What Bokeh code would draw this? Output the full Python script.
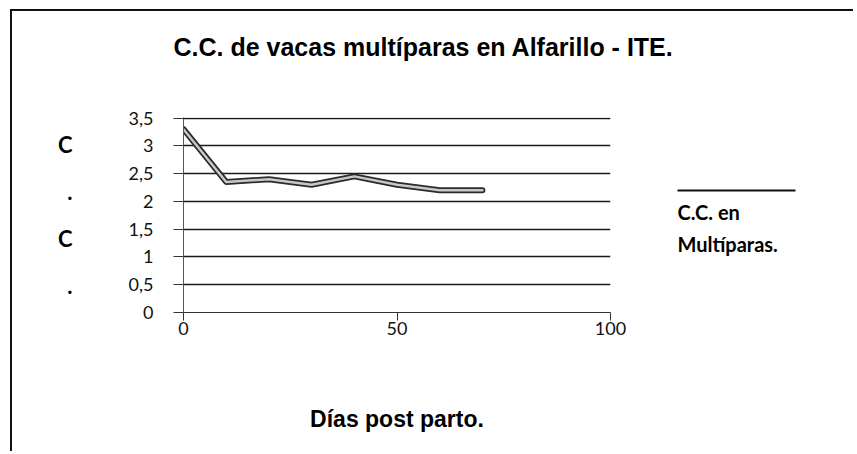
from bokeh.plotting import figure
from bokeh.models import FixedTicker, LinearAxis, Range1d, Title
from bokeh.embed import file_html
from bokeh.resources import INLINE

# data
dias = [0, 10, 20, 30, 40, 50, 60, 70]
cc_multiparas = [3.3, 2.35, 2.4, 2.3, 2.45, 2.3, 2.2, 2.2]
y_ticks = [0, 0.5, 1, 1.5, 2, 2.5, 3, 3.5]
y_tick_labels = ["0", "0,5", "1", "1,5", "2", "2,5", "3", "3,5"]
x_ticks = [0, 50, 100]
legend_label = "C.C. en\nMultíparas."
title_text = "C.C. de vacas multíparas en Alfarillo - ITE."

# canvas sits inside a CSS border at page (12, 11)
W, H = 843, 442
FL, FR, FT, FB = 171, 598, 106, 301  # frame edges in canvas pixels

p = figure(width=W, height=H, output_backend="svg", toolbar_location=None,
           title=None, x_range=(0, 100), y_range=(0, 3.51),
           min_border_left=FL, min_border_right=W - FR,
           min_border_top=FT, min_border_bottom=H - FB)
p.styles = {"margin-left": "10px", "margin-top": "9px",
            "border-left": "2px solid #111111", "border-top": "2px solid #111111"}
p.outline_line_color = None
p.background_fill_color = "white"
p.border_fill_color = "white"

# title: a blank spacer panel next to the frame, then the real title above it
p.add_layout(Title(text=" ", text_font_size="1px", standoff=49), "above")
p.add_layout(Title(text=title_text, align="left", offset=-10, standoff=10,
                   text_font="Liberation Sans", text_font_style="bold",
                   text_font_size="25px", text_color="#000000"), "above")

# grid
p.xgrid.grid_line_color = None
p.ygrid.ticker = FixedTicker(ticks=y_ticks)
p.ygrid.grid_line_color = "#1a1a1a"
p.ygrid.grid_line_width = 1.4

# y axis
p.yaxis.ticker = FixedTicker(ticks=y_ticks)
p.yaxis.major_label_overrides = {t: l for t, l in zip(y_ticks, y_tick_labels)}
p.yaxis.major_tick_out = 10
p.yaxis.major_tick_in = 0
p.yaxis.minor_tick_line_color = None
p.yaxis.major_tick_line_color = "#333333"
p.yaxis.axis_line_color = "#555555"
p.yaxis.major_label_standoff = 20
p.yaxis.major_label_text_font = "Lato"
p.yaxis.major_label_text_font_size = "18px"
p.yaxis.major_label_text_color = "#111111"
p.yaxis.axis_label = "C\n.\nC\n."
p.yaxis.axis_label_orientation = "horizontal"
p.yaxis.axis_label_text_font = "Lato"
p.yaxis.axis_label_text_font_style = "bold"
p.yaxis.axis_label_text_font_size = "22px"
p.yaxis.axis_label_text_line_height = 1.73
p.yaxis.axis_label_text_color = "#000000"
p.yaxis.axis_label_standoff = 53

# x axis
p.xaxis.ticker = FixedTicker(ticks=x_ticks)
p.xaxis.major_tick_out = 8
p.xaxis.major_tick_in = 0
p.xaxis.minor_tick_line_color = None
p.xaxis.major_tick_line_color = "#333333"
p.xaxis.axis_line_color = "#333333"
p.xaxis.major_label_standoff = 1
p.xaxis.major_label_text_font = "Lato"
p.xaxis.major_label_text_font_size = "18px"
p.xaxis.major_label_text_color = "#111111"
p.xaxis.axis_label = "Días post parto."
p.xaxis.axis_label_text_font = "Liberation Sans"
p.xaxis.axis_label_text_font_style = "bold"
p.xaxis.axis_label_text_font_size = "23px"
p.xaxis.axis_label_text_color = "#000000"
p.xaxis.axis_label_standoff = 68

# series line (dark outline with light core)
p.line(dias, cc_multiparas, line_color="#2b2b2b", line_width=6, line_join="round", line_cap="round")
p.line(dias, cc_multiparas, line_color="#c8c8c8", line_width=2.5, line_join="round", line_cap="round")

# legend on the right: line sample (minor tick) above the label (major tick label)
p.extra_y_ranges = {"legend_px": Range1d(0, FB - FT)}
leg_axis = LinearAxis(y_range_name="legend_px",
                      ticker=FixedTicker(ticks=[84.5], minor_ticks=[122]),
                      major_label_overrides={84.5: legend_label})
leg_axis.axis_line_color = None
leg_axis.major_tick_line_color = None
leg_axis.major_tick_in = 0
leg_axis.major_tick_out = 0
leg_axis.minor_tick_line_color = "#111111"
leg_axis.minor_tick_line_width = 2
leg_axis.minor_tick_in = -67
leg_axis.minor_tick_out = 185
leg_axis.major_label_standoff = -118
leg_axis.major_label_text_font = "Lato"
leg_axis.major_label_text_font_style = "bold"
leg_axis.major_label_text_font_size = "20px"
leg_axis.major_label_text_line_height = 1.33
leg_axis.major_label_text_color = "#000000"
p.add_layout(leg_axis, "right")

open("out.html", "w").write(file_html(p, INLINE))
